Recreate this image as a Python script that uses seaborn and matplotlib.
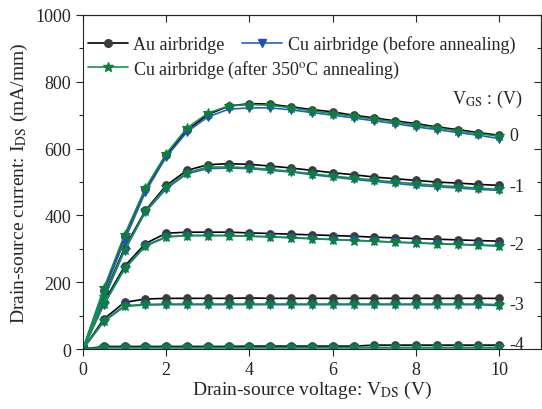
import matplotlib
matplotlib.use("Agg")
import matplotlib.pyplot as plt
from matplotlib.lines import Line2D
from matplotlib.ticker import MultipleLocator
import numpy as np
import pandas as pd
import seaborn as sns

# drain-source voltage sweep (V)
vds = [0, 0.5, 1, 1.5, 2, 2.5, 3, 3.5, 4, 4.5, 5, 5.5, 6, 6.5, 7, 7.5, 8, 8.5, 9, 9.5, 10]
vgs_levels = ["0", "-1", "-2", "-3", "-4"]

# Au airbridge, one row per VGS (0, -1, -2, -3, -4)
au_ids = [
    [0, 175, 338, 478, 580, 655, 702, 727, 735, 733, 725, 717, 710, 700, 692, 683, 675, 665, 657, 648, 640],
    [0, 158, 303, 415, 490, 535, 552, 555, 553, 548, 542, 535, 528, 522, 515, 510, 505, 500, 497, 493, 490],
    [0, 140, 248, 316, 347, 350, 350, 350, 348, 346, 344, 342, 340, 338, 335, 333, 331, 329, 327, 325, 323],
    [0, 90, 140, 150, 152, 152, 152, 152, 153, 152, 152, 152, 152, 152, 152, 152, 152, 152, 152, 152, 152],
    [0, 8, 8, 8, 8, 8, 8, 8, 9, 9, 9, 9, 9, 9, 12, 12, 12, 12, 12, 12, 12],
]
# Cu airbridge before annealing
cu_before_ids = [
    [0, 168, 325, 470, 575, 650, 695, 718, 722, 722, 716, 708, 700, 692, 683, 675, 665, 657, 648, 640, 630],
    [0, 150, 295, 410, 480, 525, 540, 542, 540, 535, 530, 522, 515, 508, 502, 496, 490, 486, 482, 478, 475],
    [0, 132, 240, 308, 335, 340, 340, 340, 338, 336, 334, 331, 328, 326, 323, 320, 318, 315, 313, 311, 308],
    [0, 82, 128, 132, 133, 133, 133, 133, 133, 133, 133, 133, 133, 133, 133, 133, 133, 133, 133, 133, 130],
    [0, 4, 4, 4, 4, 4, 4, 4, 4, 4, 4, 4, 4, 4, 4, 4, 4, 4, 4, 4, 4],
]
# Cu airbridge after 350C annealing
cu_after_ids = [
    [0, 182, 342, 482, 585, 662, 706, 728, 732, 730, 722, 713, 705, 697, 688, 680, 670, 662, 653, 645, 637],
    [0, 155, 298, 412, 485, 528, 545, 545, 543, 538, 532, 525, 518, 512, 506, 500, 495, 490, 486, 482, 478],
    [0, 135, 242, 310, 337, 340, 340, 340, 338, 336, 333, 330, 328, 325, 323, 320, 318, 316, 314, 312, 310],
    [0, 85, 130, 134, 135, 135, 135, 135, 135, 135, 135, 135, 135, 135, 135, 135, 135, 135, 135, 135, 133],
    [0, 5, 5, 5, 5, 5, 5, 5, 5, 5, 5, 5, 5, 5, 5, 5, 5, 5, 5, 5, 5],
]
# label positions at right of curves
label_y = [638, 488, 314, 135, 15]


def to_df(rows):
    data = []
    for vgs, row in zip(vgs_levels, rows):
        for x, y in zip(vds, row):
            data.append((x, y, vgs))
    return pd.DataFrame(data, columns=["VDS", "IDS", "VGS"])


sns.set_style("ticks")
plt.rcParams["font.family"] = ["Liberation Serif", "DejaVu Serif"]
plt.rcParams["mathtext.fontset"] = "stix"

fig = plt.figure(figsize=(5.42, 4.10), dpi=100)
ax = fig.add_axes([0.153, 0.146, 0.845, 0.815])

series = [
    ("Au airbridge", au_ids, "black", "#3c3c3c", "o", 5.5),
    ("Cu airbridge (before annealing)", cu_before_ids, "#2a5fbf", "#2050b0", "v", 6),
    ("Cu airbridge (after 350$^{\\rm o}$C annealing)", cu_after_ids, "#169050", "#0c7f40", "*", 7.5),
]
handles = []
for name, rows, lc, mc, mk, ms in series:
    df = to_df(rows)
    sns.lineplot(data=df, x="VDS", y="IDS", units="VGS", estimator=None, ax=ax,
                 color=lc, lw=1.2, marker=mk, markersize=ms,
                 markerfacecolor=mc, markeredgecolor=mc, legend=False)
    handles.append(Line2D([], [], color=lc, lw=1.2, marker=mk, markersize=ms,
                          markerfacecolor=mc, markeredgecolor=mc, label=name))

ax.set_xlim(0, 11)
ax.set_ylim(0, 1000)
ax.xaxis.set_major_locator(MultipleLocator(2))
ax.yaxis.set_major_locator(MultipleLocator(200))
ax.yaxis.set_minor_locator(MultipleLocator(100))
ax.tick_params(axis="both", which="major", labelsize=13, length=5, width=0.8, direction="out")
ax.tick_params(axis="y", which="minor", length=3, width=0.8, direction="out")
for side in ["top", "right"]:
    ax.spines[side].set_visible(True)

# mirrored ticks on top and right, pointing inward
top = ax.secondary_xaxis("top")
top.xaxis.set_major_locator(MultipleLocator(2))
top.tick_params(direction="in", length=5, width=0.8, labeltop=False)
right = ax.secondary_yaxis("right")
right.yaxis.set_major_locator(MultipleLocator(200))
right.yaxis.set_minor_locator(MultipleLocator(100))
right.tick_params(which="major", direction="in", length=5, width=0.8, labelright=False)
right.tick_params(which="minor", direction="in", length=3, width=0.8)

ax.set_xlabel("Drain-source voltage: V$_{\\rm DS}$ (V)", fontsize=14, labelpad=1)
ax.set_ylabel("Drain-source current: I$_{\\rm DS}$ (mA/mm)", fontsize=14, labelpad=4)

for lab, y in zip(vgs_levels, label_y):
    ax.text(10.25, y, lab, fontsize=13, ha="left", va="center")
ax.text(9.7, 750, "V$_{\\rm GS}$ : (V)", fontsize=13, ha="center", va="center")

leg1 = ax.legend(handles=handles[:2], loc="center left", bbox_to_anchor=(-0.005, 0.913),
                 ncol=2, frameon=False, fontsize=13, handlelength=2.2,
                 handletextpad=0.3, columnspacing=1.0, borderaxespad=0)
ax.add_artist(leg1)
ax.legend(handles=handles[2:], loc="center left", bbox_to_anchor=(-0.005, 0.838),
          frameon=False, fontsize=13, handlelength=2.2, handletextpad=0.3,
          borderaxespad=0)

fig.savefig("out.png", dpi=100)
